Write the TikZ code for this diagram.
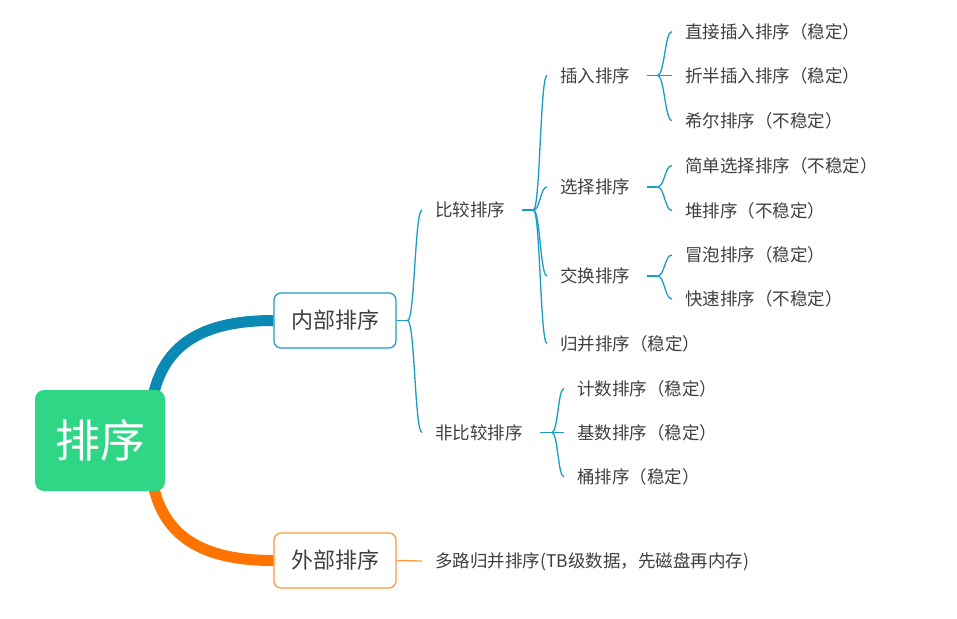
\documentclass[tikz,border=0pt]{standalone}
\usepackage{fontspec}
\setmainfont{Noto Sans CJK SC}
\usetikzlibrary{calc,backgrounds}
\definecolor{rootg}{RGB}{46,214,134}
\definecolor{thickblue}{RGB}{10,137,180}
\definecolor{thinblue}{RGB}{26,156,196}
\definecolor{thickorange}{RGB}{255,115,0}
\definecolor{thinorange}{RGB}{255,150,60}
\definecolor{txtc}{RGB}{64,64,64}
\begin{document}
\begin{tikzpicture}[x=1pt,y=-1pt,
  lbl/.style={anchor=west, inner xsep=13pt, inner ysep=0pt, text=txtc,
    font=\fontsize{17.5}{20}\selectfont, text height=14.5pt, text depth=1.3pt},
  bx/.style={draw, rounded corners=7pt, fill=white, line width=1.2pt,
    minimum width=122pt, minimum height=55pt, inner sep=0pt, text=txtc,
    font=\fontsize{22}{26}\selectfont, text height=18pt, text depth=1.2pt},
  tl/.style={draw=thinblue, line width=1.3pt},
  brch/.style={to path={.. controls ($(\tikztostart)!0.5!(\tikztotarget|-\tikztostart)$) and ($(\tikztotarget)!0.5!(\tikztostart|-\tikztotarget)$) .. (\tikztotarget)}},
]
\useasboundingbox (0,0) rectangle (957,618);

% root and first level
\node[fill=rootg, rounded corners=9pt, minimum width=130pt, minimum height=101pt, inner sep=0pt,
  text=white, font=\fontsize{45}{50}\selectfont, text height=36pt, text depth=1.8pt] (root) at (100,440.5) {排序};
\node[bx, draw=thinblue] (inb) at (335,320.5) {内部排序};
\node[bx, draw=thinorange] (outb) at (335,560.5) {外部排序};

% second level
\node[lbl] (cmp) at (422,210) {比较排序};
\node[lbl] (ncmp) at (422,432.5) {非比较排序};
\node[lbl] (multi) at (422,561) {多路归并排序(TB级数据，先磁盘再内存)};

% third level
\node[lbl] (ins) at (547,75.5) {插入排序};
\node[lbl] (sel) at (547,187) {选择排序};
\node[lbl] (swp) at (547,276) {交换排序};
\node[lbl] (mrg) at (547,343.5) {归并排序（稳定）};
\node[lbl] (cnt) at (564,388.5) {计数排序（稳定）};
\node[lbl] (rad) at (564,432.5) {基数排序（稳定）};
\node[lbl] (bkt) at (564,477) {桶排序（稳定）};

% fourth level
\node[lbl] (ins1) at (672,31.5) {直接插入排序（稳定）};
\node[lbl] (ins2) at (672,75.5) {折半插入排序（稳定）};
\node[lbl] (ins3) at (672,120.5) {希尔排序（不稳定）};
\node[lbl] (sel1) at (672,165.5) {简单选择排序（不稳定）};
\node[lbl] (sel2) at (672,210.5) {堆排序（不稳定）};
\node[lbl] (swp1) at (672,255) {冒泡排序（稳定）};
\node[lbl] (swp2) at (672,299) {快速排序（不稳定）};

% junctions
\coordinate (j0) at ([xshift=11pt]inb.east);
\coordinate (jc) at ([xshift=15pt]cmp.east);
\coordinate (jn) at ([xshift=16pt]ncmp.east);
\coordinate (ji) at ([xshift=14pt]ins.east);
\coordinate (js) at ([xshift=14pt]sel.east);
\coordinate (jw) at ([xshift=14pt]swp.east);

\begin{scope}[on background layer]
\fill[white] (0,0) rectangle (957,618);
\draw[thickblue, line width=11pt] ([xshift=-12pt,yshift=-6pt]root.north east)
  .. controls +(12,-56) and +(-64,0) .. (inb.west);
\draw[thickorange, line width=11pt] ([xshift=-12pt,yshift=6pt]root.south east)
  .. controls +(12,56) and +(-64,0) .. (outb.west);

\draw[tl] (inb.east) -- (j0);
\draw[tl] (j0) to[brch] (cmp.west);
\draw[tl] (j0) to[brch] (ncmp.west);

\draw[tl] ([xshift=4pt]cmp.east) -- (jc);
\draw[tl] (jc) to[brch] (ins.west);
\draw[tl] (jc) to[brch] (sel.west);
\draw[tl] (jc) to[brch] (swp.west);
\draw[tl] (jc) to[brch] (mrg.west);

\draw[tl] ([xshift=4pt]ncmp.east) -- (jn);
\draw[tl] (jn) to[brch] (cnt.west);
\draw[tl] (jn) -- (rad.west);
\draw[tl] (jn) to[brch] (bkt.west);

\draw[tl] ([xshift=4pt]ins.east) -- (ji);
\draw[tl] (ji) to[brch] (ins1.west);
\draw[tl] (ji) -- (ins2.west);
\draw[tl] (ji) to[brch] (ins3.west);

\draw[tl] ([xshift=4pt]sel.east) -- (js);
\draw[tl] (js) to[brch] (sel1.west);
\draw[tl] (js) to[brch] (sel2.west);

\draw[tl] ([xshift=4pt]swp.east) -- (jw);
\draw[tl] (jw) to[brch] (swp1.west);
\draw[tl] (jw) to[brch] (swp2.west);

\draw[thinorange, line width=1.3pt] (outb.east) -- (multi.west);
\end{scope}
\end{tikzpicture}
\end{document}
